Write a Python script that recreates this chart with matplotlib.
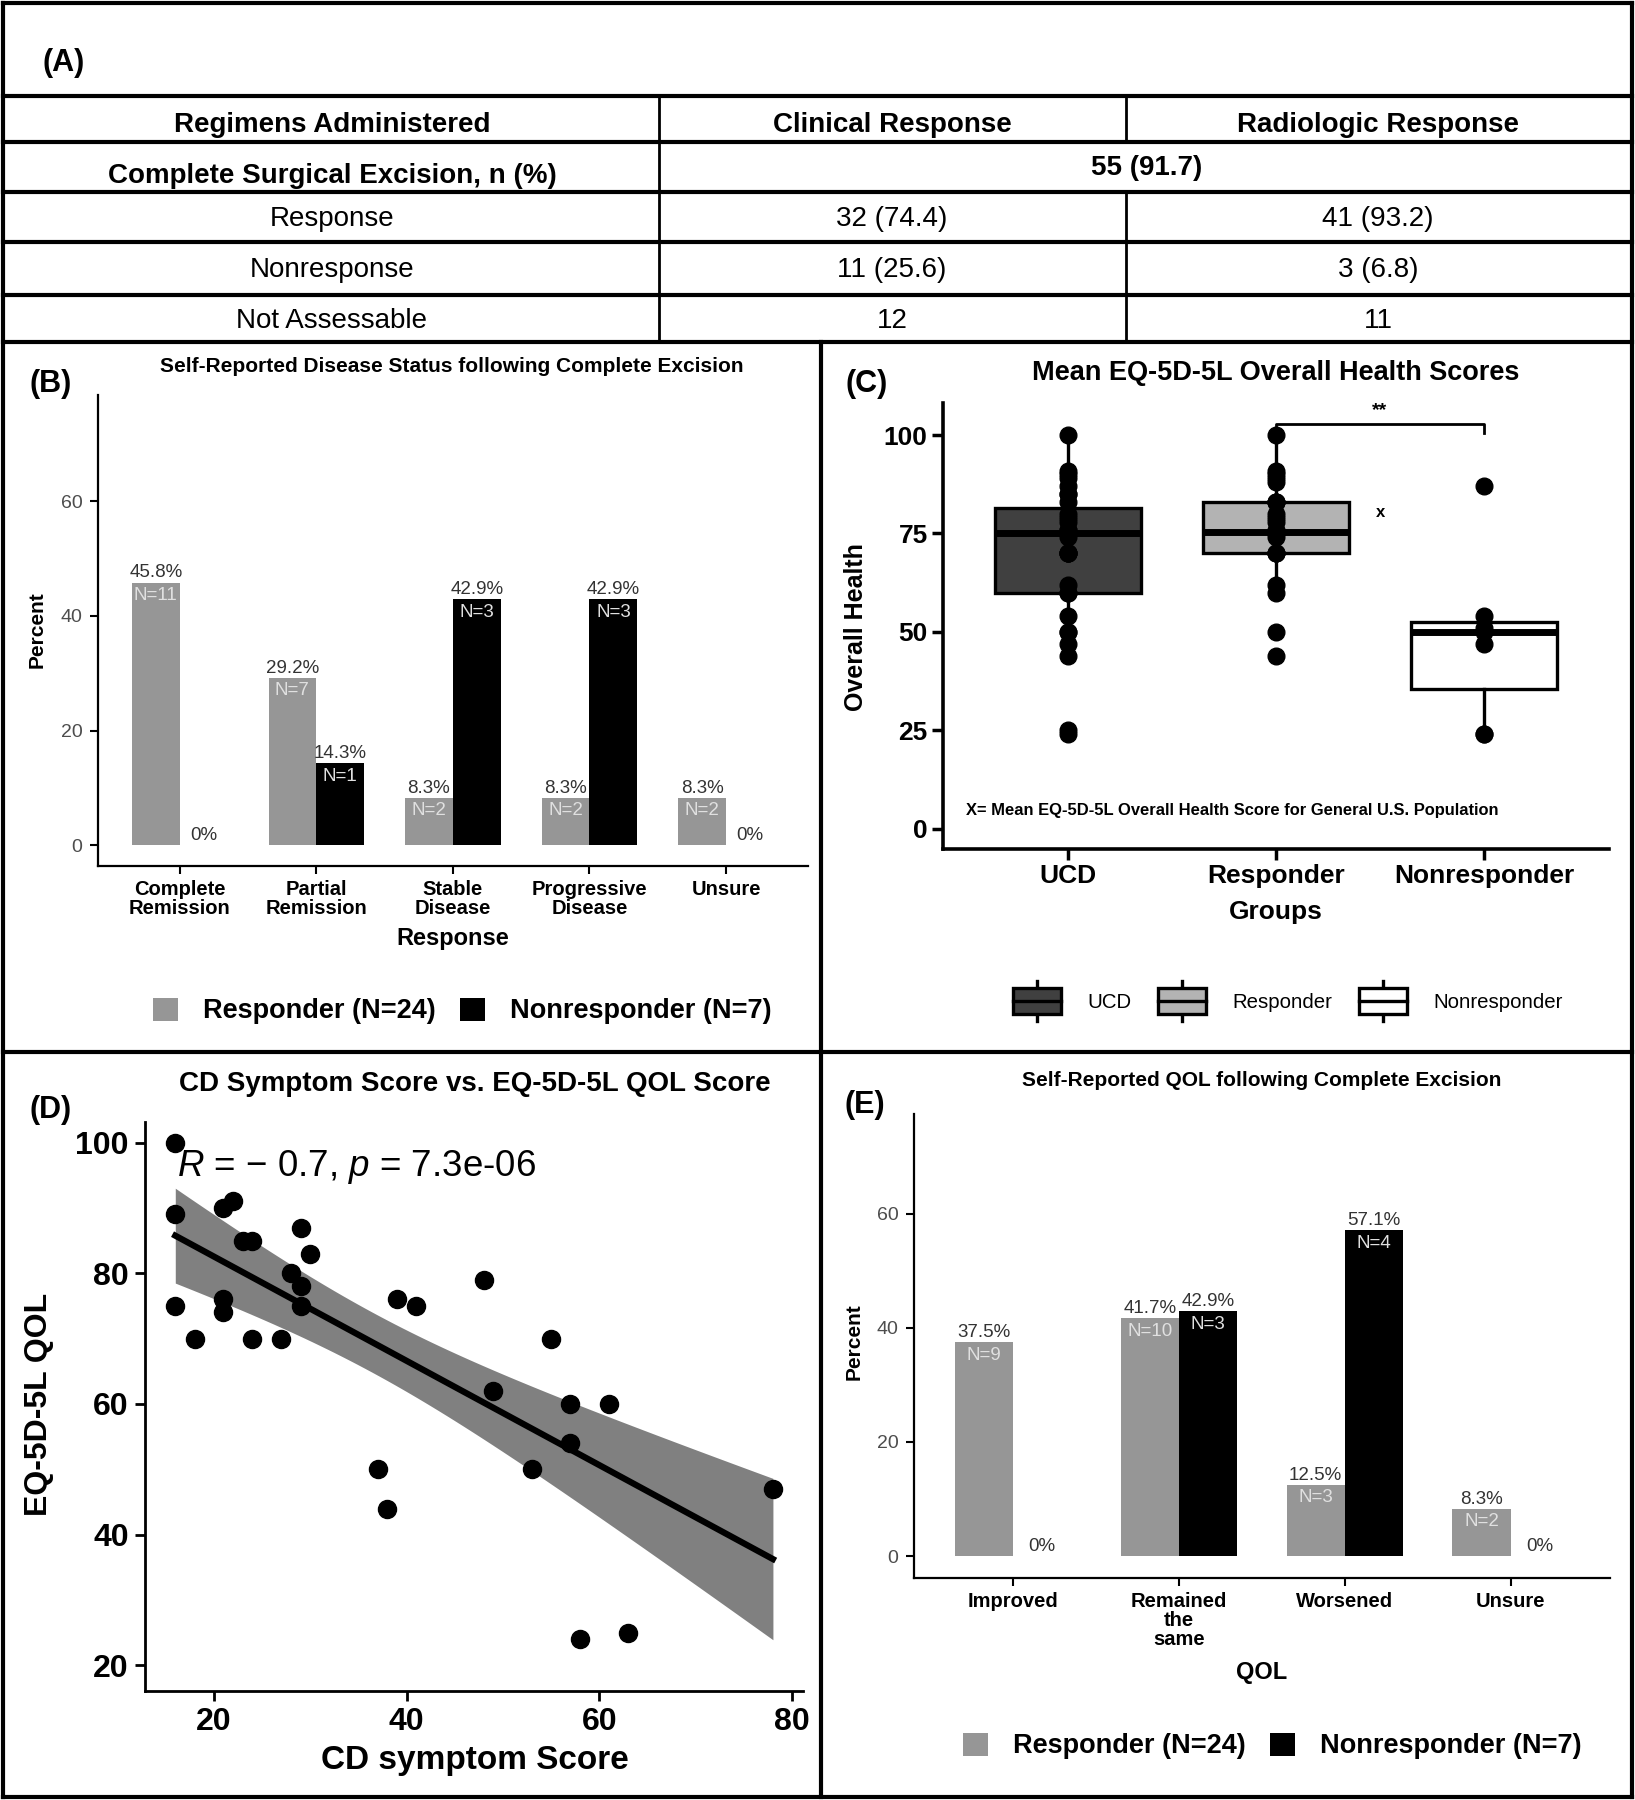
import numpy as np
import matplotlib
matplotlib.use('Agg')
import matplotlib.pyplot as plt
from matplotlib.patches import Patch, Rectangle
from matplotlib.lines import Line2D
from matplotlib.legend_handler import HandlerBase

plt.rcParams['font.family'] = ['Liberation Sans', 'DejaVu Sans']
plt.rcParams['mathtext.fontset'] = 'custom'
plt.rcParams['mathtext.it'] = 'Liberation Sans:italic'
plt.rcParams['mathtext.rm'] = 'Liberation Sans'

W, H = 1635, 1800

# (A) table
table_header = ['Regimens Administered', 'Clinical Response', 'Radiologic Response']
excision_label = 'Complete Surgical Excision, n (%)'
excision_value = '55 (91.7)'
table_rows = ['Response', 'Nonresponse', 'Not Assessable']
clinical_vals = ['32 (74.4)', '11 (25.6)', '12']
radiologic_vals = ['41 (93.2)', '3 (6.8)', '11']

# (B) self-reported disease status
b_cats = ['Complete\nRemission', 'Partial\nRemission', 'Stable\nDisease',
          'Progressive\nDisease', 'Unsure']
b_resp_pct = [45.8, 29.2, 8.3, 8.3, 8.3]
b_resp_n = [11, 7, 2, 2, 2]
b_nonr_pct = [0, 14.3, 42.9, 42.9, 0]
b_nonr_n = [0, 1, 3, 3, 0]

# (C) EQ-5D-5L overall health by group
c_groups = ['UCD', 'Responder', 'Nonresponder']
c_ucd = [100, 89, 75, 70, 90, 91, 76, 74, 85, 85, 70, 70, 80, 87, 78, 75,
         83, 50, 44, 76, 75, 79, 62, 50, 70, 60, 54, 60, 25, 24, 47]
c_resp = [44, 50, 60, 62, 70, 70, 70, 74, 75, 75, 75, 75, 76, 78, 79, 80,
          83, 83, 83, 88, 89, 90, 91, 100]
c_nonr = [24, 24, 47, 50, 51, 54, 87]
c_us_mean = 80.3
c_fills = ['#404040', '#b3b3b3', 'white']

# (D) CD symptom score vs QOL
d_x = np.array([16, 16, 16, 18, 21, 22, 21, 21, 23, 24, 24, 27, 28, 29, 29, 29,
                30, 37, 38, 39, 41, 48, 49, 53, 55, 57, 57, 61, 58, 63, 78])
d_y = np.array([100, 89, 75, 70, 90, 91, 76, 74, 85, 85, 70, 70, 80, 87, 78, 75,
                83, 50, 44, 76, 75, 79, 62, 50, 70, 60, 54, 60, 24, 25, 47])

# (E) self-reported QOL
e_cats = ['Improved', 'Remained\nthe\nsame', 'Worsened', 'Unsure']
e_resp_pct = [37.5, 41.7, 12.5, 8.3]
e_resp_n = [9, 10, 3, 2]
e_nonr_pct = [0, 42.9, 57.1, 0]
e_nonr_n = [0, 3, 4, 0]

GRAY = '#969696'

fig = plt.figure(figsize=(W / 100, H / 100), dpi=100)

# frame / table layer in pixel coordinates
fr = fig.add_axes([0, 0, 1, 1])
fr.set_xlim(0, W)
fr.set_ylim(H, 0)
fr.axis('off')

for y in [3, 96, 142, 192, 242, 295, 342]:
    fr.plot([3, 1632], [y, y], color='black', lw=3)
fr.plot([3, 1632], [1052, 1052], color='black', lw=3)
fr.plot([3, 1632], [1797, 1797], color='black', lw=3)
fr.plot([3, 3], [3, 1797], color='black', lw=3)
fr.plot([1632, 1632], [3, 1797], color='black', lw=3)
fr.plot([821, 821], [342, 1797], color='black', lw=3)
fr.plot([659, 659], [96, 342], color='black', lw=2)
fr.plot([1126, 1126], [96, 142], color='black', lw=2)
fr.plot([1126, 1126], [192, 342], color='black', lw=2)

col_x = [332, 892, 1378]
fr.text(42, 63, '(A)', fontsize=22, fontweight='bold', ha='left', va='center')
for cx, s in zip(col_x, table_header):
    fr.text(cx, 125, s, fontsize=20, fontweight='bold', ha='center', va='center')
fr.text(col_x[0], 176, excision_label, fontsize=20, fontweight='bold', ha='center', va='center')
fr.text(1147, 168, excision_value, fontsize=20, fontweight='bold', ha='center', va='center')
for i, y in enumerate([219, 270, 321]):
    fr.text(col_x[0], y, table_rows[i], fontsize=20, ha='center', va='center')
    fr.text(col_x[1], y, clinical_vals[i], fontsize=20, ha='center', va='center')
    fr.text(col_x[2], y, radiologic_vals[i], fontsize=20, ha='center', va='center')


def rect(x0, y0, x1, y1):
    return [x0 / W, 1 - y1 / H, (x1 - x0) / W, (y1 - y0) / H]


def bar_panel(r, cats, resp_pct, resp_n, nonr_pct, nonr_n, ylim):
    ax = fig.add_axes(r)
    ax.set_facecolor('none')
    x = np.arange(len(cats))
    bw = 0.35
    ax.bar(x - bw / 2, resp_pct, bw, color=GRAY)
    ax.bar(x + bw / 2, nonr_pct, bw, color='black')
    for xs, pcts, ns in [(x - bw / 2, resp_pct, resp_n), (x + bw / 2, nonr_pct, nonr_n)]:
        for xi, p, n in zip(xs, pcts, ns):
            ax.text(xi, p + 0.2, f'{p:g}%', fontsize=13.5, color='#333333',
                    ha='center', va='bottom')
            if n > 0:
                ax.text(xi, p - 0.8, f'N={n}', fontsize=13.5, color='#e0e0e0',
                        ha='center', va='top')
    ax.set_xlim(-0.6, len(cats) - 0.4)
    ax.set_ylim(*ylim)
    ax.set_yticks([0, 20, 40, 60])
    ax.set_xticks(x)
    ax.set_xticklabels(cats, fontweight='bold', fontsize=14.5, linespacing=1.0)
    ax.tick_params(axis='y', labelsize=14, labelcolor='#4d4d4d', length=6, width=1.5, pad=5)
    ax.tick_params(axis='x', length=6, width=1.5, pad=4)
    for s in ['top', 'right']:
        ax.spines[s].set_visible(False)
    for s in ['left', 'bottom']:
        ax.spines[s].set_linewidth(1.6)
    return ax


def bar_legend(cx, cy):
    handles = [Patch(facecolor=GRAY, label='Responder (N=24)'),
               Patch(facecolor='black', label='Nonresponder (N=7)')]
    fig.legend(handles=handles, loc='center', bbox_to_anchor=(cx / W, 1 - cy / H),
               ncol=2, frameon=False, prop={'weight': 'bold', 'size': 19.5},
               handlelength=0.95, handleheight=0.95, handletextpad=0.9,
               columnspacing=0.9)


# (B)
axb = bar_panel(rect(97.8, 395, 808, 866), b_cats, b_resp_pct, b_resp_n,
                b_nonr_pct, b_nonr_n, (-3.6, 78.5))
fr.text(452, 366, 'Self-Reported Disease Status following Complete Excision',
        fontsize=15, fontweight='bold', ha='center', va='center')
fr.text(51, 384, '(B)', fontsize=22, fontweight='bold', ha='center', va='center')
fr.text(37, 630, 'Percent', fontsize=15, fontweight='bold', rotation=90, ha='center', va='center')
fr.text(453, 939, 'Response', fontsize=17, fontweight='bold', ha='center', va='center')
bar_legend(462, 1011)

# (E)
axe = bar_panel(rect(913.6, 1113.6, 1610, 1578.4), e_cats, e_resp_pct, e_resp_n,
                e_nonr_pct, e_nonr_n, (-3.9, 77.5))
fr.text(1262, 1080, 'Self-Reported QOL following Complete Excision',
        fontsize=15, fontweight='bold', ha='center', va='center')
fr.text(865, 1105, '(E)', fontsize=22, fontweight='bold', ha='center', va='center')
fr.text(854, 1342, 'Percent', fontsize=15, fontweight='bold', rotation=90, ha='center', va='center')
fr.text(1262, 1672, 'QOL', fontsize=17, fontweight='bold', ha='center', va='center')
bar_legend(1272, 1746)

# (C)
axc = fig.add_axes(rect(943, 403, 1609, 849))
axc.set_facecolor('none')
c_data = [c_ucd, c_resp, c_nonr]
bp = axc.boxplot(c_data, positions=[0, 1, 2], widths=0.7, patch_artist=True,
                 showfliers=False, showcaps=False, whis=1.5,
                 medianprops=dict(color='black', lw=5),
                 boxprops=dict(edgecolor='black', lw=2.4),
                 whiskerprops=dict(color='black', lw=2.4))
for patch, fc in zip(bp['boxes'], c_fills):
    patch.set_facecolor(fc)
for i, vals in enumerate(c_data):
    axc.plot(np.full(len(vals), i), vals, 'o', color='black', ms=12, zorder=5)
sig_lo, sig_hi = 100.5, 102.8
axc.plot([1, 1, 2, 2], [sig_lo, sig_hi, sig_hi, sig_lo], color='black', lw=2)
axc.text(1.5, 106.3, '**', fontsize=14, fontweight='bold', ha='center', va='center')
axc.text(1.5, c_us_mean, 'x', fontsize=12, fontweight='bold', ha='center', va='center')
axc.text(-0.49, 4.6, 'X= Mean EQ-5D-5L Overall Health Score for General U.S. Population',
         fontsize=11.9, fontweight='bold', ha='left', va='center')
axc.set_xlim(-0.6, 2.6)
axc.set_ylim(-5.15, 108.15)
axc.set_yticks([0, 25, 50, 75, 100])
axc.set_yticklabels(['0', '25', '50', '75', '100'], fontweight='bold', fontsize=19)
axc.set_xticks([0, 1, 2])
axc.set_xticklabels(c_groups, fontweight='bold', fontsize=19)
axc.tick_params(length=8, width=2.5, pad=3)
for s in ['top', 'right']:
    axc.spines[s].set_visible(False)
for s in ['left', 'bottom']:
    axc.spines[s].set_linewidth(2.6)
fr.text(1276, 373, 'Mean EQ-5D-5L Overall Health Scores', fontsize=19.5,
        fontweight='bold', ha='center', va='center')
fr.text(867, 384, '(C)', fontsize=22, fontweight='bold', ha='center', va='center')
fr.text(856, 627, 'Overall Health', fontsize=18, fontweight='bold', rotation=90,
        ha='center', va='center')
fr.text(1276, 912, 'Groups', fontsize=19, fontweight='bold', ha='center', va='center')


class BoxKey(HandlerBase):
    def create_artists(self, legend, orig_handle, xdescent, ydescent, width, height,
                       fontsize, trans):
        x0, y0 = -xdescent, -ydescent
        cx = x0 + width / 2
        stub = height * 0.25
        box = Rectangle((x0, y0), width, height, facecolor=orig_handle.get_facecolor(),
                        edgecolor='black', lw=2.4, transform=trans)
        mid = Line2D([x0, x0 + width], [y0 + height / 2] * 2, color='black', lw=2.4,
                     transform=trans)
        top = Line2D([cx, cx], [y0 + height, y0 + height + stub], color='black', lw=2.4,
                     transform=trans)
        bot = Line2D([cx, cx], [y0 - stub, y0], color='black', lw=2.4, transform=trans)
        return [top, bot, box, mid]


c_handles = [Patch(facecolor=fc, label=g) for fc, g in zip(c_fills, c_groups)]
fig.legend(handles=c_handles, loc='center', bbox_to_anchor=(1288 / W, 1 - 1001 / H),
           ncol=3, frameon=False, prop={'size': 14.7},
           handler_map={Patch: BoxKey()}, handlelength=2.35, handleheight=1.6,
           handletextpad=1.3, columnspacing=1.3)

# (D)
axd = fig.add_axes(rect(145.4, 1121.7, 802.8, 1690.8))
axd.set_facecolor('none')
slope, icpt = np.polyfit(d_x, d_y, 1)
xs = np.linspace(d_x.min(), d_x.max(), 80)
fit = icpt + slope * xs
n = len(d_x)
resid = d_y - (icpt + slope * d_x)
s_err = np.sqrt(np.sum(resid ** 2) / (n - 2))
se = s_err * np.sqrt(1 / n + (xs - d_x.mean()) ** 2 / np.sum((d_x - d_x.mean()) ** 2))
t975 = 2.045
axd.fill_between(xs, fit - t975 * se, fit + t975 * se, color='#808080', lw=0, zorder=1)
axd.plot(xs, fit, color='black', lw=4.5, zorder=2)
axd.plot(d_x, d_y, 'o', color='black', ms=13, zorder=3)
axd.text(16.2, 96.2, '$R$ = \u2212 0.7, $p$ = 7.3e-06', fontsize=26.5, ha='left', va='center')
axd.set_xlim(12.9, 81.1)
axd.set_ylim(16.1, 103.2)
axd.set_xticks([20, 40, 60, 80])
axd.set_xticklabels(['20', '40', '60', '80'], fontweight='bold', fontsize=23)
axd.set_yticks([20, 40, 60, 80, 100])
axd.set_yticklabels(['20', '40', '60', '80', '100'], fontweight='bold', fontsize=23)
axd.tick_params(length=7, width=2, pad=5)
for s in ['top', 'right']:
    axd.spines[s].set_visible(False)
for s in ['left', 'bottom']:
    axd.spines[s].set_linewidth(2)
fr.text(475, 1084, 'CD Symptom Score vs. EQ-5D-5L QOL Score', fontsize=20,
        fontweight='bold', ha='center', va='center')
fr.text(51, 1110, '(D)', fontsize=22, fontweight='bold', ha='center', va='center')
fr.text(39, 1404, 'EQ-5D-5L QOL', fontsize=23, fontweight='bold', rotation=90,
        ha='center', va='center')
fr.text(475, 1760, 'CD symptom Score', fontsize=24, fontweight='bold', ha='center', va='center')

fig.savefig('out.png', dpi=100)
